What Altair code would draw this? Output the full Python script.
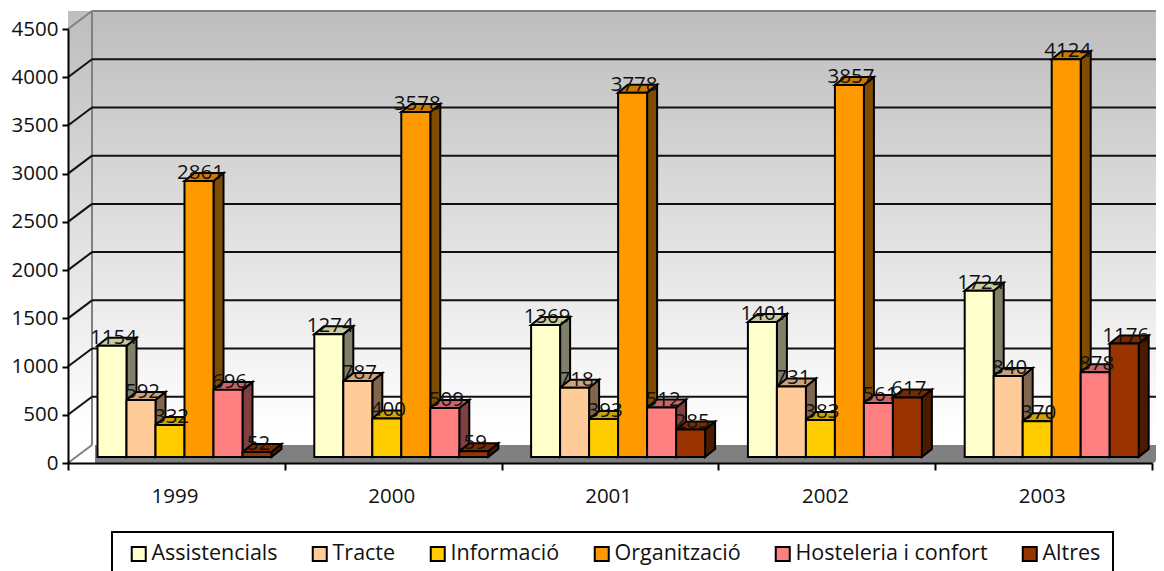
import altair as alt
import pandas as pd

years = ["1999", "2000", "2001", "2002", "2003"]
series = ["Assistencials", "Tracte", "Informació", "Organització", "Hosteleria i confort", "Altres"]
values = {
    "Assistencials": [1154, 1274, 1369, 1401, 1724],
    "Tracte": [592, 787, 718, 731, 840],
    "Informació": [332, 400, 393, 383, 370],
    "Organització": [2861, 3578, 3778, 3857, 4124],
    "Hosteleria i confort": [696, 509, 512, 561, 878],
    "Altres": [52, 59, 285, 617, 1176],
}
front_colors = ["#FFFFCC", "#FFCC99", "#FFCC00", "#FF9900", "#FF8080", "#993300"]
side_colors = ["#80806A", "#80664D", "#806600", "#804D00", "#804040", "#4D1A00"]
top_colors = ["#CCCCA3", "#CCA37A", "#CCA300", "#CC7A00", "#CC6666", "#7A2900"]
y_ticks = list(range(0, 5000, 500))

FONT = "Open Sans"
W, H = 1084, 434
PXX = 5 / W          # x units per pixel
PXY = 4500 / H       # value units per pixel
WALL_DX, WALL_DY = 24 * PXX, 18 * PXY
BAR_DX, BAR_DY = 10 * PXX, 8 * PXY
BAR_BASE = 6 * PXY
BAR_START = 29.5 * PXX
BAR_W = 29 * PXX

xs = alt.X("x:Q", scale=alt.Scale(domain=[0, 5], nice=False, zero=False), title=None,
           axis=alt.Axis(values=list(range(6)), labelExpr="datum.value < 5 ? '' + (1999 + datum.value) : ''",
                         labelOffset=106.5, tickSize=7, tickWidth=2, tickColor="black", domainColor="black",
                         domainWidth=2, labelPadding=16, labelFontSize=20.5, labelFont=FONT, labelColor="#111",
                         grid=False, zindex=1, labelFlush=False, labelOverlap=False, labelBaseline="top"))
ys = alt.Y("y:Q", scale=alt.Scale(domain=[0, 4500], nice=False), title=None, stack=None,
           axis=alt.Axis(values=y_ticks, format="d", tickSize=6, tickWidth=2, tickColor="black", domainColor="black",
                         domainWidth=2, labelPadding=4, labelFontSize=20.5, labelFont=FONT, labelColor="#111",
                         grid=False, zindex=1, labelFlush=False, labelOverlap=False))

fronts, sides, tops = [], [], []
for si, s in enumerate(series):
    for yi, y in enumerate(years):
        v = values[s][yi]
        x0 = yi + BAR_START + si * BAR_W
        x1 = x0 + BAR_W
        b = BAR_BASE
        t = BAR_BASE + v
        bid = f"{s}-{y}"
        fronts.append(dict(series=s, x=x0, x2=x1, y=b, y2=t, v=v, lx=(x0 + x1) / 2 + BAR_DX * 0.15))
        sides.append(dict(id=bid, fill=side_colors[si], x=x1, y=b, y2=t))
        sides.append(dict(id=bid, fill=side_colors[si], x=x1 + BAR_DX, y=b + BAR_DY, y2=t + BAR_DY))
        tops.append(dict(id=bid, fill=top_colors[si], y=t, x=x0, x2=x1))
        tops.append(dict(id=bid, fill=top_colors[si], y=t + BAR_DY, x=x0 + BAR_DX, x2=x1 + BAR_DX))
fronts, sides, tops = map(pd.DataFrame, (fronts, sides, tops))

wall = pd.DataFrame([dict(x=0, x2=5 + WALL_DX, y=0, y2=4500 + WALL_DY)])
grad = alt.LinearGradient(gradient="linear", x1=0, x2=0, y1=0, y2=1,
                          stops=[alt.GradientStop(color="#BDBDBD", offset=0),
                                 alt.GradientStop(color="#FFFFFF", offset=0.93)])
bg = alt.Chart(wall).mark_rect(color=grad).encode(x=xs, x2="x2:Q", y=ys, y2="y2:Q")

floor = pd.DataFrame([dict(y=0, x=WALL_DX + 3 * PXX, x2=5),
                      dict(y=WALL_DY, x=WALL_DX + 3 * PXX, x2=5 + WALL_DX)])
floor_m = alt.Chart(floor).mark_area(orient="horizontal", color="#808080").encode(
    y=ys, x=xs, x2="x2:Q")

grid = pd.DataFrame([dict(x=WALL_DX, x2=5 + WALL_DX, y=t + WALL_DY) for t in y_ticks[1:-1]])
grid_m = alt.Chart(grid).mark_rule(color="#111", strokeWidth=2).encode(x=xs, x2="x2:Q", y=ys)
diag = pd.DataFrame([dict(x=0, x2=WALL_DX, y=t, y2=t + WALL_DY) for t in y_ticks[1:-1]])
diag_m = alt.Chart(diag).mark_rule(color="#111", strokeWidth=2).encode(x=xs, x2="x2:Q", y=ys, y2="y2:Q")
edges = pd.DataFrame([
    dict(x=0, x2=WALL_DX, y=0, y2=WALL_DY),
    dict(x=0, x2=WALL_DX, y=4500, y2=4500 + WALL_DY),
    dict(x=WALL_DX, x2=WALL_DX, y=WALL_DY, y2=4500 + WALL_DY),
    dict(x=WALL_DX, x2=5 + WALL_DX, y=4500 + WALL_DY, y2=4500 + WALL_DY),
    dict(x=5, x2=5 + WALL_DX, y=0, y2=WALL_DY),
])
edges_m = alt.Chart(edges).mark_rule(color="#808080", strokeWidth=2).encode(x=xs, x2="x2:Q", y=ys, y2="y2:Q")

side_m = alt.Chart(sides).mark_area(orient="vertical", stroke="black", strokeWidth=2).encode(
    x=xs, y=ys, y2="y2:Q", detail="id:N", color=alt.Color("fill:N", scale=None))
top_m = alt.Chart(tops).mark_area(orient="horizontal", stroke="black", strokeWidth=2).encode(
    y=ys, x=xs, x2="x2:Q", detail="id:N", color=alt.Color("fill:N", scale=None))

color = alt.Color("series:N", sort=series, scale=alt.Scale(domain=series, range=front_colors),
                  legend=alt.Legend(orient="none", legendX=60, legendY=514, columns=6, title=None,
                                    symbolType="square", symbolSize=196, symbolStrokeColor="black",
                                    symbolStrokeWidth=2, symbolOpacity=1, labelFont=FONT, labelFontSize=21.5,
                                    labelColor="#111", labelOffset=2, columnPadding=30, labelLimit=400,
                                    padding=0))
front_m = alt.Chart(fronts).mark_rect(stroke="black", strokeWidth=2, opacity=1).encode(
    x=xs, x2="x2:Q", y=ys, y2="y2:Q", color=color)

labels = alt.Chart(fronts).mark_text(font=FONT, fontSize=20.5, color="#111", dy=-8, baseline="middle").encode(
    x=alt.X("lx:Q"), y=alt.Y("y2:Q"), text="v:Q")

box = pd.DataFrame([dict(k=1)])
box_m = alt.Chart(box).mark_rect(fill="white", stroke="black", strokeWidth=2).encode(
    x=alt.value(44), x2=alt.value(1045), y=alt.value(503), y2=alt.value(560))

chart = alt.layer(bg, floor_m, edges_m, grid_m, diag_m, side_m, top_m, front_m, labels, box_m).properties(
    width=W, height=H,
    autosize=alt.AutoSizeParams(type="none"),
    padding={"left": 60, "top": 21, "right": 4, "bottom": 108},
).configure_view(stroke=None).configure(background="white")

chart.save("out.html", embed_options={"renderer": "svg", "actions": False})
